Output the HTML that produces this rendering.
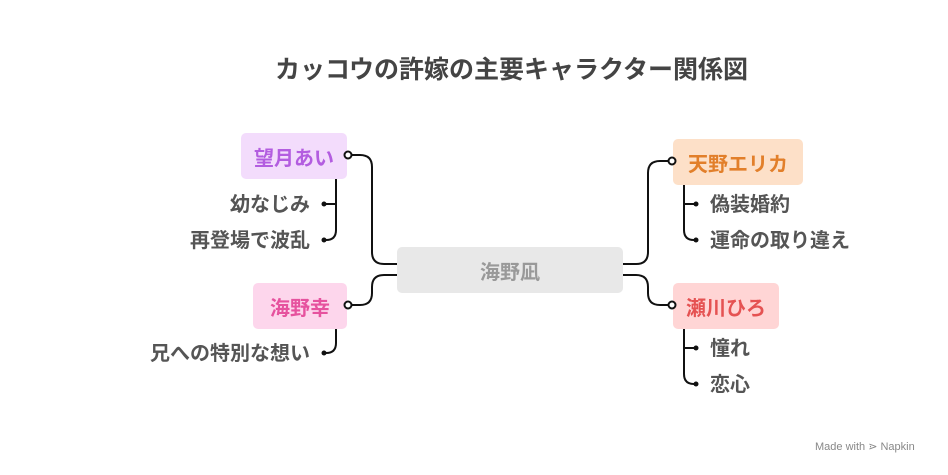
<!DOCTYPE html>
<html><head><meta charset="utf-8"><style>
body{margin:0;width:948px;height:475px;background:#fff;position:relative;overflow:hidden;font-family:"Liberation Sans","Noto Sans CJK JP",sans-serif;font-weight:bold}
.t{position:absolute;white-space:nowrap}
.box{position:absolute;border-radius:5px;display:flex;align-items:center;justify-content:center;font-size:20px}
.c{font-size:20px;color:#555;position:absolute;white-space:nowrap;line-height:22px}
</style></head><body>
<div class="t" style="left:0;width:1023px;text-align:center;top:50px;font-size:25px;color:#444">カッコウの許嫁の主要キャラクター関係図</div>
<svg width="948" height="475" style="position:absolute;left:0;top:0" fill="none" stroke="#111" stroke-width="2">
<path d="M397 264 H384 Q372 264 372 252 V167 Q372 155 360 155 H352"/>
<path d="M397 275 H384 Q372 275 372 287 V293 Q372 305 360 305 H352"/>
<path d="M623 264 H636 Q648 264 648 252 V173 Q648 161 660 161 H668"/>
<path d="M623 275 H636 Q648 275 648 287 V293 Q648 305 660 305 H668"/>
<path d="M336 179 V230 Q336 240 326 240 H324 M336 204 H324"/>
<path d="M336 329 V343 Q336 353 326 353 H324"/>
<path d="M684 185 V230 Q684 240 694 240 H696 M684 204 H696"/>
<path d="M684 329 V374 Q684 384 694 384 H696 M684 348 H696"/>
<g fill="#111" stroke="none"><circle cx="324" cy="204" r="2.5"/><circle cx="324" cy="240" r="2.5"/><circle cx="324" cy="353" r="2.5"/><circle cx="696" cy="204" r="2.5"/><circle cx="696" cy="240" r="2.5"/><circle cx="696" cy="348" r="2.5"/><circle cx="696" cy="384" r="2.5"/></g>
</svg>
<div class="box" style="left:397px;top:247px;width:226px;height:46px;background:#e8e8e8;color:#999">海野凪</div>
<div class="box" style="left:241px;top:133px;width:106px;height:46px;background:#f3dcfc;color:#b35de0">望月あい</div>
<div class="box" style="left:253px;top:283px;width:94px;height:46px;background:#fdd6ec;color:#e6529e">海野幸</div>
<div class="box" style="left:673px;top:139px;width:130px;height:46px;background:#fde0c8;color:#e27f2a">天野エリカ</div>
<div class="box" style="left:673px;top:283px;width:106px;height:46px;background:#ffd5d5;color:#e55252">瀬川ひろ</div>
<svg width="948" height="475" style="position:absolute;left:0;top:0" fill="#fff" stroke="#111" stroke-width="2">
<circle cx="348" cy="155" r="3.5"/><circle cx="348" cy="305" r="3.5"/><circle cx="672" cy="161" r="3.5"/><circle cx="672" cy="305" r="3.5"/>
</svg>
<div class="c" style="right:638px;top:194px">幼なじみ</div>
<div class="c" style="right:638px;top:230px">再登場で波乱</div>
<div class="c" style="right:638px;top:343px">兄への特別な想い</div>
<div class="c" style="left:710px;top:194px">偽装婚約</div>
<div class="c" style="left:710px;top:230px">運命の取り違え</div>
<div class="c" style="left:710px;top:338px">憧れ</div>
<div class="c" style="left:710px;top:374px">恋心</div>
<div class="t" style="left:815px;top:440px;font-size:11px;font-weight:normal;color:#888">Made with ⋗ Napkin</div>
</body></html>
